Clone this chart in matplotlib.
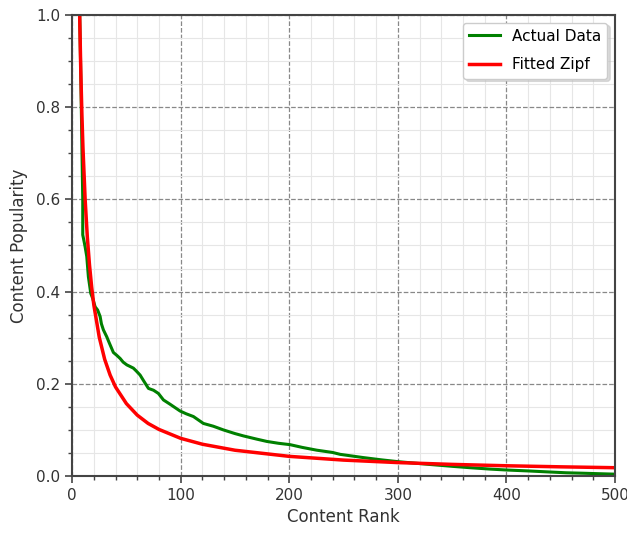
import matplotlib
matplotlib.use("Agg")
import matplotlib.pyplot as plt
from matplotlib.ticker import MultipleLocator

# Actual data
actual_rank = [7, 8, 9, 9.8, 9.8, 10.5, 12, 13.5, 15, 17.2, 19, 21.2, 23.5, 25.8, 27,
               28.8, 31.9, 34, 38, 41, 44.2, 47, 50.4, 53, 56.4, 59, 62.6, 66, 70.3,
               75, 79.5, 84.1, 90, 99.4, 105, 111.7, 120.9, 130, 139.3, 150, 157.7,
               170, 179.3, 190, 200.7, 212, 225.3, 240, 246.8, 268, 285, 300.5, 315,
               329.7, 350, 366.5, 385, 400.3, 420, 437.1, 455, 470.9, 485, 500]
actual_pop = [1.0, 0.87, 0.72, 0.60, 0.523, 0.515, 0.497, 0.476, 0.432, 0.396, 0.385,
              0.367, 0.360, 0.346, 0.330, 0.317, 0.302, 0.290, 0.268, 0.262, 0.255,
              0.247, 0.241, 0.238, 0.234, 0.228, 0.219, 0.206, 0.190, 0.186, 0.179,
              0.165, 0.156, 0.141, 0.135, 0.129, 0.114, 0.108, 0.100, 0.092, 0.087,
              0.080, 0.075, 0.071, 0.068, 0.062, 0.056, 0.051, 0.047, 0.040, 0.035,
              0.031, 0.028, 0.025, 0.021, 0.018, 0.015, 0.013, 0.011, 0.009, 0.007,
              0.006, 0.005, 0.004]

# Fitted Zipf
zipf_rank = [7, 8, 9, 10, 12, 14, 16, 18, 20, 25, 30, 35, 40, 50, 60, 70, 80, 100,
             120, 150, 200, 250, 300, 350, 400, 450, 500]
zipf_pop = [0.995, 0.878, 0.786, 0.712, 0.600, 0.519, 0.458, 0.410, 0.371, 0.301,
            0.253, 0.219, 0.193, 0.157, 0.132, 0.114, 0.101, 0.0817, 0.0689, 0.0559,
            0.0426, 0.0345, 0.0291, 0.0252, 0.0222, 0.0199, 0.0180]

fig = plt.figure(figsize=(6.27, 5.34), dpi=100)
ax = fig.add_axes([0.115, 0.1086, 0.866, 0.8634])

ax.plot(actual_rank, actual_pop, color="green", lw=2.2, label="Actual Data")
ax.plot(zipf_rank, zipf_pop, color="red", lw=2.5, label="Fitted Zipf")

ax.set_xlim(0, 500)
ax.set_ylim(0, 1.0)
ax.xaxis.set_major_locator(MultipleLocator(100))
ax.xaxis.set_minor_locator(MultipleLocator(20))
ax.yaxis.set_major_locator(MultipleLocator(0.2))
ax.yaxis.set_minor_locator(MultipleLocator(0.05))

ax.grid(which="major", color="#888888", linestyle="--", lw=0.9)
ax.grid(which="minor", color="#e6e6e6", linestyle="-", lw=0.8)
ax.set_axisbelow(True)

for s in ax.spines.values():
    s.set_color("#444444")
    s.set_linewidth(1.5)
ax.tick_params(which="major", direction="out", length=5, width=1.2, colors="#444444",
               labelsize=11, labelcolor="#333333")
ax.tick_params(which="minor", direction="out", length=3, width=1, colors="#444444")

ax.set_xlabel("Content Rank", fontsize=12, color="#333333")
ax.set_ylabel("Content Popularity", fontsize=12, color="#333333", labelpad=6)

leg = ax.legend(loc="upper right", fontsize=11, shadow={"color": "#bbbbbb"}, fancybox=True,
                framealpha=1, edgecolor="#cccccc", labelspacing=0.9)

fig.savefig("out.png", dpi=100)
